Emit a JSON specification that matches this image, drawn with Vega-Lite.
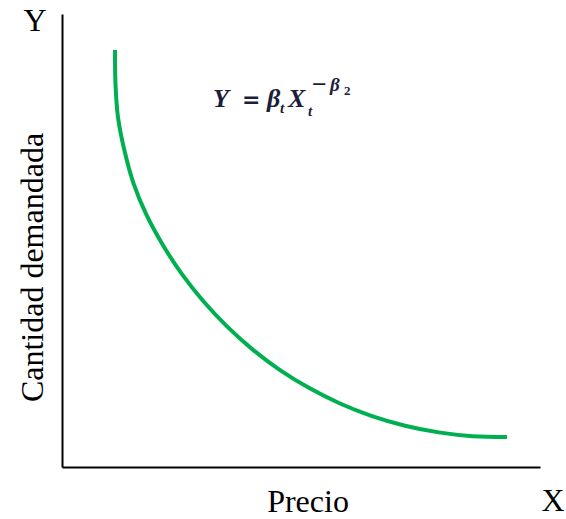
{
  "$schema": "https://vega.github.io/schema/vega-lite/v6.json",
  "autosize": {"type": "none"},
  "width": 478,
  "height": 453,
  "padding": {"left": 62, "top": 14, "right": 26, "bottom": 52},
  "background": "white",
  "config": {
    "view": {"stroke": null},
    "axis": {
      "domainColor": "black",
      "domainWidth": 2,
      "ticks": false,
      "labels": false,
      "grid": false,
      "titleFont": "Liberation Serif",
      "titleFontSize": 32,
      "titleFontWeight": "normal",
      "titleColor": "black",
      "titleAlign": "center",
      "titleBaseline": "alphabetic"
    }
  },
  "datasets": {
    "curve": [
      {"precio": 11.09, "cantidad": 92.05},
      {"precio": 11.19, "cantidad": 84.59},
      {"precio": 11.72, "cantidad": 77.17},
      {"precio": 13.08, "cantidad": 69.82},
      {"precio": 14.96, "cantidad": 62.63},
      {"precio": 17.68, "cantidad": 55.65},
      {"precio": 21.13, "cantidad": 48.96},
      {"precio": 25.10, "cantidad": 42.56},
      {"precio": 29.58, "cantidad": 36.58},
      {"precio": 34.52, "cantidad": 31.04},
      {"precio": 39.85, "cantidad": 25.96},
      {"precio": 45.61, "cantidad": 21.39},
      {"precio": 51.74, "cantidad": 17.42},
      {"precio": 58.16, "cantidad": 14.02},
      {"precio": 64.85, "cantidad": 11.24},
      {"precio": 71.78, "cantidad": 9.12},
      {"precio": 78.81, "cantidad": 7.64},
      {"precio": 85.92, "cantidad": 6.80},
      {"precio": 93.10, "cantidad": 6.62}
    ],
    "formulaMain": [
      {"x": 31.59, "y": 79.47, "t": "Y"},
      {"x": 42.89, "y": 79.47, "t": "β"},
      {"x": 47.28, "y": 79.47, "t": "X"}
    ],
    "formulaEq": [
      {"x": 37.66, "y": 79.47, "t": "="}
    ],
    "formulaSub": [
      {"x": 45.61, "y": 78.15, "t": "t"},
      {"x": 51.46, "y": 77.48, "t": "t"}
    ],
    "formulaMinus": [
      {"x": 52.30, "y": 82.56, "t": "−"}
    ],
    "formulaSup": [
      {"x": 56.07, "y": 83.00, "t": "β"}
    ],
    "formulaSupSub": [
      {"x": 59.00, "y": 82.12, "t": "2"}
    ],
    "axisNames": [
      {"x": -5.65, "y": 96.25, "t": "Y"},
      {"x": 102.72, "y": -9.71, "t": "X"}
    ]
  },
  "layer": [
    {
      "data": {"name": "curve"},
      "mark": {"type": "line", "color": "#00B050", "strokeWidth": 4, "interpolate": "catmull-rom", "strokeCap": "butt"},
      "encoding": {
        "x": {
          "field": "precio", "type": "quantitative",
          "scale": {"domain": [0, 100], "nice": false, "zero": false},
          "axis": {"title": "Precio", "titleX": 245.5, "titleY": 44}
        },
        "y": {
          "field": "cantidad", "type": "quantitative",
          "scale": {"domain": [0, 100], "nice": false, "zero": false},
          "axis": {"title": "Cantidad demandada", "titleX": -20, "titleY": 253, "titleAngle": -90}
        }
      }
    },
    {
      "data": {"name": "axisNames"},
      "mark": {"type": "text", "font": "Liberation Serif", "fontSize": 32, "color": "black", "align": "center", "baseline": "alphabetic"},
      "encoding": {
        "x": {"field": "x", "type": "quantitative"},
        "y": {"field": "y", "type": "quantitative"},
        "text": {"field": "t"}
      }
    },
    {
      "data": {"name": "formulaMain"},
      "mark": {"type": "text", "font": "Liberation Serif", "fontSize": 26, "fontStyle": "italic", "fontWeight": "bold", "color": "#1c1d3a", "align": "left", "baseline": "alphabetic"},
      "encoding": {
        "x": {"field": "x", "type": "quantitative"},
        "y": {"field": "y", "type": "quantitative"},
        "text": {"field": "t"}
      }
    },
    {
      "data": {"name": "formulaEq"},
      "mark": {"type": "text", "font": "DejaVu Sans", "fontSize": 22, "fontWeight": "bold", "color": "#1c1d3a", "align": "left", "baseline": "alphabetic"},
      "encoding": {
        "x": {"field": "x", "type": "quantitative"},
        "y": {"field": "y", "type": "quantitative"},
        "text": {"field": "t"}
      }
    },
    {
      "data": {"name": "formulaSub"},
      "mark": {"type": "text", "font": "Liberation Serif", "fontSize": 15, "fontStyle": "italic", "fontWeight": "bold", "color": "#1c1d3a", "align": "left", "baseline": "alphabetic"},
      "encoding": {
        "x": {"field": "x", "type": "quantitative"},
        "y": {"field": "y", "type": "quantitative"},
        "text": {"field": "t"}
      }
    },
    {
      "data": {"name": "formulaMinus"},
      "mark": {"type": "text", "font": "Liberation Serif", "fontSize": 26, "fontWeight": "bold", "color": "#1c1d3a", "align": "left", "baseline": "alphabetic"},
      "encoding": {
        "x": {"field": "x", "type": "quantitative"},
        "y": {"field": "y", "type": "quantitative"},
        "text": {"field": "t"}
      }
    },
    {
      "data": {"name": "formulaSup"},
      "mark": {"type": "text", "font": "Liberation Serif", "fontSize": 19, "fontStyle": "italic", "fontWeight": "bold", "color": "#1c1d3a", "align": "left", "baseline": "alphabetic"},
      "encoding": {
        "x": {"field": "x", "type": "quantitative"},
        "y": {"field": "y", "type": "quantitative"},
        "text": {"field": "t"}
      }
    },
    {
      "data": {"name": "formulaSupSub"},
      "mark": {"type": "text", "font": "Liberation Serif", "fontSize": 13, "fontWeight": "bold", "color": "#1c1d3a", "align": "left", "baseline": "alphabetic"},
      "encoding": {
        "x": {"field": "x", "type": "quantitative"},
        "y": {"field": "y", "type": "quantitative"},
        "text": {"field": "t"}
      }
    }
  ]
}
